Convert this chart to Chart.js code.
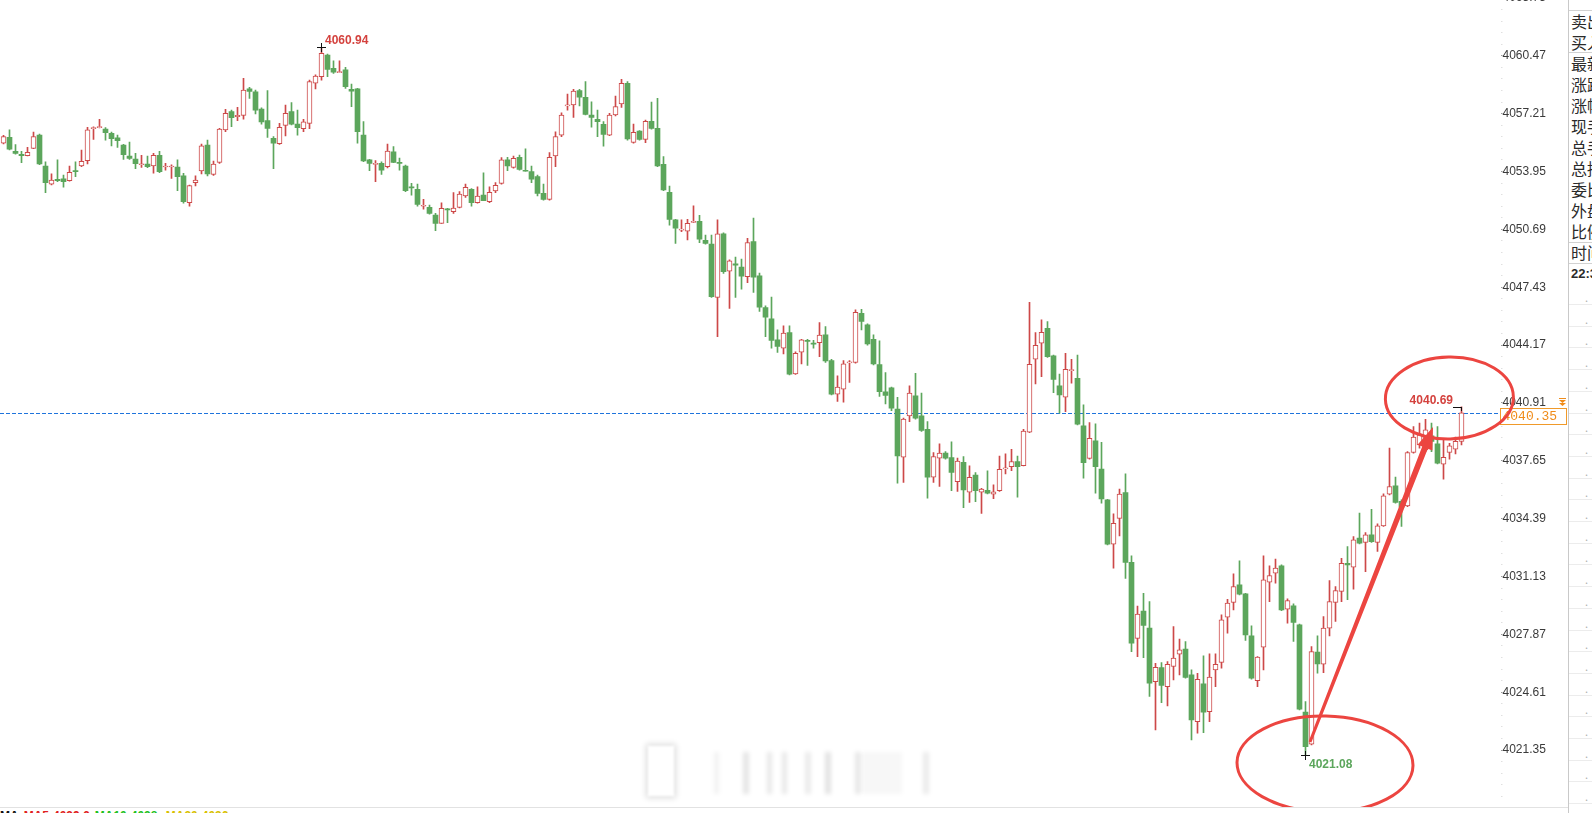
<!DOCTYPE html>
<html lang="zh-CN">
<head>
<meta charset="UTF-8">
<title>K线图</title>
<script src="https://cdn.jsdelivr.net/npm/chart.js"></script>
<style>
    body, html {
        margin: 0;
        height: 100%;
        overflow: hidden;
        background: #fff;
        font-family: Arial, "Liberation Sans", sans-serif;
    }
    #c {
        position: absolute;
        left: 0;
        top: 0;
    }
    #side {
        position: absolute;
        left: 1568px;
        top: 0;
        width: 40px;
        height: 813px;
        border-left: 1px solid #c9c9c9;
        font-family: "Noto Sans CJK SC", sans-serif;
        font-size: 16px;
        color: #2a2a2a;
    }
    #side .row {
        position: absolute;
        left: 2px;
        height: 20px;
        line-height: 20px;
        white-space: nowrap;
    }
    #side .ln {
        position: absolute;
        left: 0;
        width: 40px;
        height: 1px;
        background: #d2d2d2;
    }
    #side .ln.soft {
        background: #ececec;
    }
    #side .dot {
        position: absolute;
        left: 16px;
        font-size: 11px;
        color: #b0b0b0;
        line-height: 10px;
    }
    #bottomLine {
        position: absolute;
        left: 0;
        top: 807px;
        width: 1568px;
        height: 1px;
        background: #e2e2e2;
    }
    #maText {
        position: absolute;
        left: 0;
        top: 809px;
        font: bold 12px Arial, sans-serif;
        white-space: nowrap;
    }
    #maText span { margin-right: 5px; }
    .smear {
        position: absolute;
        filter: blur(2px);
    }
</style>
</head>
<body>

<canvas id="c" width="1568" height="808"></canvas>

<!-- blurred smear near the bottom of the screenshot -->
<div class="smear" style="left:648px;top:746px;width:26px;height:50px;background:#fff;box-shadow:0 0 6px 2px rgba(0,0,0,0.14);filter:blur(1px)"></div>
<div class="smear" style="left:714px;top:752px;width:5px;height:42px;background:rgba(0,0,0,0.05)"></div>
<div class="smear" style="left:743px;top:752px;width:6px;height:42px;background:rgba(0,0,0,0.10)"></div>
<div class="smear" style="left:767px;top:752px;width:5px;height:42px;background:rgba(0,0,0,0.09)"></div>
<div class="smear" style="left:782px;top:752px;width:5px;height:42px;background:rgba(0,0,0,0.09)"></div>
<div class="smear" style="left:805px;top:752px;width:6px;height:42px;background:rgba(0,0,0,0.08)"></div>
<div class="smear" style="left:825px;top:752px;width:6px;height:42px;background:rgba(0,0,0,0.11)"></div>
<div class="smear" style="left:855px;top:752px;width:6px;height:42px;background:rgba(0,0,0,0.09)"></div>
<div class="smear" style="left:862px;top:752px;width:40px;height:42px;background:rgba(0,0,0,0.03)"></div>
<div class="smear" style="left:923px;top:752px;width:6px;height:42px;background:rgba(0,0,0,0.08)"></div>

<div id="bottomLine"></div>
<div id="maText"><span style="color:#111">MA</span><span style="color:#e02020">MA5:4039.6</span><span style="color:#20c020">MA10:4038.</span><span style="color:#d8c000">MA20:4036.</span></div>

<div id="side"></div>

<script>
// ---- data (one candle per bar, left to right) ----
const candleOpen = [
    4055.54, 4055.87, 4055.08, 4054.92, 4054.84, 4055.25, 4056.00, 4054.26, 4053.24, 4053.51,
    4053.53, 4053.43, 4053.98, 4054.26, 4054.56, 4056.36, 4056.42, 4056.34, 4056.10, 4055.84,
    4055.44, 4054.82, 4054.65, 4054.33, 4054.37, 4054.26, 4054.86, 4054.20, 4054.20, 4054.20,
    4053.70, 4052.19, 4053.32, 4053.98, 4055.44, 4053.79, 4054.46, 4056.29, 4057.32, 4057.04,
    4057.11, 4058.61, 4058.43, 4057.47, 4056.81, 4055.82, 4055.52, 4056.55, 4057.32, 4056.62,
    4056.36, 4056.66, 4058.92, 4059.29, 4060.51, 4059.76, 4059.52, 4059.67, 4058.58, 4058.60,
    4056.00, 4054.60, 4054.35, 4054.41, 4054.22, 4055.05, 4054.45, 4054.26, 4053.09, 4052.94,
    4051.99, 4051.93, 4051.50, 4051.03, 4051.84, 4051.69, 4051.93, 4052.57, 4052.94, 4052.19,
    4052.62, 4052.25, 4052.85, 4053.28, 4054.60, 4054.18, 4054.75, 4054.00, 4053.94, 4053.66,
    4052.72, 4052.38, 4054.82, 4056.00, 4057.64, 4057.70, 4058.50, 4058.13, 4057.13, 4056.89,
    4056.61, 4056.00, 4057.13, 4057.75, 4058.91, 4055.59, 4056.23, 4055.76, 4056.77, 4056.38,
    4054.35, 4052.77, 4051.22, 4050.65, 4050.58, 4051.08, 4051.14, 4050.07, 4049.86, 4046.86,
    4050.43, 4048.33, 4048.74, 4048.56, 4048.03, 4050.00, 4048.07, 4046.28, 4045.65, 4044.46,
    4043.99, 4044.88, 4042.55, 4043.77, 4044.43, 4044.28, 4044.31, 4044.74, 4043.30, 4041.40,
    4041.68, 4043.17, 4043.19, 4045.96, 4045.31, 4044.50, 4043.07, 4041.53, 4041.76, 4040.56,
    4037.85, 4040.18, 4041.31, 4040.18, 4039.43, 4036.73, 4037.80, 4038.08, 4037.83, 4036.48,
    4037.57, 4035.88, 4036.85, 4035.88, 4035.99, 4035.77, 4035.97, 4037.19, 4037.32, 4037.61,
    4037.38, 4039.26, 4043.37, 4044.27, 4045.12, 4043.56, 4041.87, 4041.23, 4042.73, 4042.30,
    4039.62, 4037.79, 4038.77, 4037.19, 4035.45, 4032.95, 4034.41, 4035.86, 4031.93, 4027.65,
    4029.19, 4028.22, 4025.21, 4026.00, 4024.93, 4026.06, 4026.75, 4027.05, 4025.59, 4022.96,
    4025.08, 4023.52, 4025.87, 4026.29, 4028.84, 4029.67, 4030.66, 4030.15, 4027.79, 4025.27,
    4027.15, 4030.81, 4031.32, 4031.73, 4029.29, 4029.48, 4028.41, 4023.49, 4021.68, 4026.87,
    4026.19, 4028.22, 4029.67, 4030.29, 4031.88, 4031.66, 4033.29, 4033.05, 4033.48, 4033.05,
    4033.98, 4035.77, 4036.24, 4035.36, 4035.11, 4038.12, 4038.55, 4038.27, 4039.05, 4038.60,
    4037.46, 4038.12, 4038.30, 4038.74
];
const candleHigh = [
    4055.99, 4056.29, 4055.46, 4055.08, 4055.31, 4056.17, 4056.06, 4054.50, 4053.81, 4054.60,
    4053.75, 4054.26, 4054.50, 4055.16, 4056.44, 4056.47, 4056.89, 4056.42, 4056.17, 4056.00,
    4055.48, 4055.61, 4054.97, 4054.86, 4054.82, 4054.97, 4055.08, 4054.41, 4054.33, 4054.60,
    4053.85, 4053.19, 4053.71, 4055.50, 4055.72, 4054.54, 4056.38, 4057.45, 4057.41, 4057.56,
    4059.20, 4058.69, 4058.54, 4057.53, 4058.50, 4055.91, 4056.66, 4057.69, 4057.83, 4057.41,
    4056.89, 4059.10, 4059.39, 4060.94, 4060.57, 4060.19, 4060.19, 4059.82, 4058.88, 4058.63,
    4056.76, 4054.63, 4054.56, 4054.50, 4055.50, 4055.35, 4054.71, 4054.31, 4053.28, 4053.24,
    4052.38, 4052.06, 4051.59, 4052.19, 4051.87, 4052.76, 4052.81, 4053.24, 4052.98, 4053.09,
    4053.88, 4053.09, 4053.32, 4054.73, 4054.75, 4054.82, 4054.88, 4055.23, 4054.26, 4053.75,
    4053.24, 4055.01, 4056.19, 4057.26, 4058.31, 4058.58, 4058.58, 4059.01, 4057.88, 4057.41,
    4056.76, 4057.23, 4058.20, 4059.14, 4059.01, 4056.62, 4056.25, 4056.85, 4057.86, 4058.07,
    4054.79, 4053.13, 4051.25, 4051.22, 4051.25, 4052.02, 4051.48, 4050.37, 4050.37, 4051.22,
    4050.50, 4048.97, 4049.12, 4049.01, 4050.19, 4051.32, 4048.22, 4046.38, 4046.87, 4045.03,
    4045.25, 4045.25, 4043.79, 4044.50, 4044.50, 4044.43, 4045.44, 4045.21, 4043.37, 4042.43,
    4043.30, 4043.30, 4046.15, 4046.19, 4045.36, 4044.74, 4044.41, 4042.62, 4041.80, 4041.23,
    4040.05, 4041.87, 4042.58, 4041.46, 4039.86, 4038.12, 4038.60, 4038.17, 4038.72, 4037.80,
    4037.89, 4037.36, 4036.99, 4036.10, 4037.08, 4036.29, 4037.92, 4038.04, 4038.30, 4037.92,
    4039.43, 4046.58, 4044.87, 4045.59, 4045.49, 4043.61, 4042.53, 4043.71, 4043.37, 4043.61,
    4040.80, 4039.80, 4039.73, 4038.69, 4035.48, 4034.66, 4036.05, 4036.91, 4032.29, 4029.47,
    4030.19, 4029.72, 4026.24, 4026.28, 4026.34, 4028.31, 4027.60, 4027.46, 4025.87, 4025.68,
    4026.66, 4026.77, 4026.77, 4028.97, 4029.85, 4031.28, 4032.01, 4030.19, 4028.35, 4026.62,
    4032.29, 4031.73, 4032.11, 4031.79, 4029.87, 4029.59, 4028.45, 4024.09, 4027.19, 4027.79,
    4028.88, 4030.90, 4030.57, 4032.16, 4032.82, 4033.38, 4034.70, 4033.61, 4034.92, 4034.10,
    4035.79, 4038.36, 4036.73, 4035.45, 4038.17, 4039.58, 4039.77, 4039.99, 4039.77, 4039.58,
    4038.87, 4038.64, 4038.98, 4040.69
];
const candleLow = [
    4055.50, 4055.16, 4054.93, 4054.45, 4054.82, 4055.24, 4054.33, 4052.76, 4053.19, 4053.38,
    4053.06, 4053.41, 4053.66, 4054.22, 4054.37, 4055.76, 4056.40, 4055.72, 4055.39, 4055.31,
    4054.63, 4054.63, 4054.11, 4054.18, 4054.16, 4053.85, 4053.88, 4054.03, 4053.56, 4052.87,
    4052.16, 4052.00, 4053.13, 4053.81, 4053.70, 4053.73, 4054.41, 4056.19, 4056.47, 4056.81,
    4056.89, 4058.07, 4057.19, 4056.62, 4055.87, 4054.11, 4055.48, 4055.95, 4056.57, 4055.99,
    4056.19, 4056.36, 4058.60, 4059.10, 4059.29, 4059.48, 4059.52, 4058.63, 4057.60, 4055.54,
    4054.50, 4053.99, 4053.38, 4053.79, 4054.15, 4054.45, 4054.03, 4052.81, 4052.61, 4052.00,
    4051.82, 4051.55, 4050.62, 4051.03, 4051.07, 4051.59, 4051.89, 4052.49, 4052.00, 4052.16,
    4052.30, 4052.19, 4052.76, 4053.24, 4053.99, 4054.13, 4054.03, 4053.96, 4053.32, 4052.57,
    4052.34, 4052.34, 4054.22, 4055.91, 4057.41, 4057.00, 4057.64, 4057.13, 4056.44, 4055.91,
    4055.38, 4055.97, 4057.08, 4057.56, 4055.72, 4055.54, 4055.72, 4055.57, 4056.34, 4054.22,
    4052.87, 4050.93, 4049.90, 4050.56, 4050.09, 4051.07, 4049.94, 4049.86, 4046.86, 4044.64,
    4048.21, 4046.23, 4046.85, 4047.32, 4047.69, 4047.13, 4046.06, 4044.65, 4043.99, 4043.75,
    4043.67, 4042.49, 4042.51, 4043.11, 4043.02, 4043.99, 4043.52, 4043.19, 4041.36, 4040.99,
    4040.95, 4042.06, 4043.15, 4045.03, 4044.16, 4043.05, 4041.27, 4040.86, 4040.48, 4036.39,
    4036.43, 4039.86, 4040.00, 4039.30, 4035.54, 4036.43, 4036.20, 4037.74, 4035.97, 4035.92,
    4035.01, 4035.30, 4035.35, 4034.69, 4035.78, 4035.52, 4035.92, 4036.91, 4037.10, 4035.60,
    4037.36, 4039.24, 4041.98, 4042.39, 4043.48, 4041.49, 4040.33, 4040.42, 4042.02, 4039.67,
    4036.67, 4037.74, 4035.82, 4035.26, 4032.91, 4031.60, 4033.42, 4031.03, 4026.90, 4026.62,
    4026.56, 4024.37, 4022.49, 4024.03, 4023.84, 4025.31, 4025.59, 4025.40, 4021.92, 4022.30,
    4022.34, 4022.96, 4024.93, 4025.97, 4027.94, 4029.25, 4030.10, 4027.53, 4025.35, 4024.93,
    4025.87, 4029.72, 4030.76, 4029.21, 4028.50, 4027.47, 4023.62, 4021.08, 4021.65, 4025.68,
    4025.72, 4027.79, 4028.60, 4029.72, 4029.82, 4030.42, 4032.97, 4031.41, 4033.05, 4032.54,
    4033.95, 4035.73, 4035.26, 4033.95, 4035.07, 4038.08, 4038.36, 4038.17, 4038.17, 4037.48,
    4036.61, 4037.74, 4038.04, 4038.55
];
const candleClose = [
    4055.91, 4055.20, 4054.97, 4054.84, 4055.03, 4055.91, 4054.37, 4053.32, 4053.47, 4053.43,
    4053.38, 4053.90, 4053.94, 4054.52, 4056.29, 4056.40, 4056.45, 4056.14, 4055.80, 4055.69,
    4054.90, 4054.69, 4054.39, 4054.37, 4054.22, 4054.86, 4053.94, 4054.26, 4054.26, 4053.66,
    4052.25, 4053.15, 4053.47, 4055.39, 4053.81, 4054.37, 4056.34, 4057.23, 4056.98, 4057.11,
    4058.54, 4058.46, 4057.41, 4056.74, 4056.38, 4055.54, 4056.44, 4057.23, 4056.62, 4056.42,
    4056.74, 4059.01, 4059.33, 4060.61, 4059.70, 4059.55, 4059.57, 4058.73, 4058.48, 4056.19,
    4054.54, 4054.41, 4054.41, 4054.03, 4055.10, 4054.46, 4054.41, 4052.87, 4053.02, 4052.10,
    4052.02, 4051.59, 4051.03, 4051.87, 4051.78, 4051.89, 4052.68, 4053.06, 4052.19, 4052.57,
    4052.30, 4052.78, 4053.17, 4054.60, 4054.26, 4054.69, 4054.07, 4053.96, 4053.51, 4052.72,
    4052.38, 4054.75, 4055.91, 4057.13, 4057.70, 4058.48, 4058.13, 4057.17, 4057.00, 4056.76,
    4056.04, 4057.13, 4057.60, 4058.91, 4055.78, 4056.16, 4055.76, 4056.77, 4056.38, 4054.26,
    4052.91, 4051.25, 4050.75, 4050.69, 4051.03, 4051.12, 4050.13, 4049.90, 4046.90, 4050.43,
    4048.31, 4048.91, 4048.67, 4048.05, 4049.95, 4047.99, 4046.30, 4045.74, 4044.43, 4044.09,
    4044.84, 4042.53, 4043.71, 4044.46, 4044.37, 4044.22, 4044.73, 4043.28, 4041.40, 4041.80,
    4043.11, 4043.22, 4046.02, 4045.50, 4044.24, 4043.11, 4041.55, 4041.33, 4040.61, 4037.93,
    4040.00, 4041.46, 4040.05, 4039.36, 4036.73, 4037.89, 4038.08, 4037.80, 4036.99, 4037.63,
    4036.01, 4036.72, 4035.97, 4036.05, 4035.82, 4035.90, 4037.17, 4037.25, 4037.61, 4037.32,
    4039.33, 4043.09, 4044.16, 4044.89, 4043.52, 4042.24, 4041.36, 4042.81, 4042.77, 4039.71,
    4037.55, 4038.92, 4037.32, 4035.50, 4032.95, 4034.13, 4035.77, 4031.92, 4027.37, 4029.02,
    4028.37, 4025.12, 4026.02, 4024.99, 4026.19, 4026.53, 4027.00, 4025.44, 4023.05, 4025.34,
    4023.49, 4025.46, 4026.19, 4028.69, 4029.63, 4030.57, 4030.14, 4027.84, 4025.40, 4026.59,
    4030.94, 4031.19, 4031.60, 4029.25, 4029.78, 4028.54, 4023.66, 4021.55, 4026.90, 4026.21,
    4028.22, 4029.72, 4030.34, 4031.88, 4031.79, 4033.20, 4033.01, 4033.48, 4033.10, 4033.98,
    4035.68, 4036.20, 4035.30, 4035.04, 4038.12, 4038.98, 4039.11, 4039.39, 4038.74, 4037.52,
    4037.85, 4038.49, 4038.74, 4040.35
];

const yTickLabels = [4021.35, 4024.61, 4027.87, 4031.13, 4034.39, 4037.65, 4040.91,
                     4044.17, 4047.43, 4050.69, 4053.95, 4057.21, 4060.47, 4063.73];
const lastPrice = 4040.35;
const markHigh = { idx: 53, value: 4060.94 };
const markLow = { idx: 217, value: 4021.08 };
const markLast = { idx: 243, value: 4040.69 };
const yMin = 4018.09, yMax = 4063.61;
const slotCount = 250;   // candle slots across the plot, the last few are empty

const panelRows = ['卖出', '买入', '最新', '涨跌', '涨幅', '现手', '总手', '总持', '委比', '外盘', '比例', '时间'];

const RED = '#cd4848';
const GREEN = '#5ca65c';

// ---- right side quote panel (cut off by the window) ----
(function buildSide() {
    const side = document.getElementById('side');
    let html = '<div class="row" style="top:-12px;font:bold 13px Arial">11:</div>';
    html += '<div class="ln" style="top:10px"></div>';
    panelRows.forEach(function (t, i) {
        html += '<div class="row" style="top:' + (11 + 21 * i) + 'px">' + t + '</div>';
    });
    html += '<div class="ln" style="top:52px"></div>';
    html += '<div class="ln" style="top:242px"></div>';
    html += '<div class="ln" style="top:263px"></div>';
    html += '<div class="row" style="top:266px;font:bold 13px Arial">22:3</div>';
    for (let j = 0; j < 24; j++) {
        const y = 292 + j * 21.7;
        html += '<div class="dot" style="top:' + y.toFixed(1) + 'px">.</div>';
        html += '<div class="ln soft" style="top:' + (y + 12).toFixed(1) + 'px"></div>';
    }
    side.innerHTML = html;
})();

// ---- y axis ticks: labelled ones plus faint minor ones ----
function buildTicks() {
    const step = yTickLabels[1] - yTickLabels[0];
    const out = [];
    for (let j = -15; j <= 80; j++) {
        const v = yTickLabels[0] + j * step / 5;
        if (v < yMin || v > yMax) continue;
        out.push({ value: v, major: j % 5 === 0 });
    }
    return out;
}

const slotLabels = Array.from({ length: slotCount }, (_, i) => String(i));
const isUp = i => candleClose[i] >= candleOpen[i];
const bodies = candleOpen.map((o, i) => [o, candleClose[i]]);
const wicks = candleOpen.map((o, i) => [candleLow[i], candleHigh[i]]);

function plus(ctx, x, y, s) {
    ctx.beginPath();
    ctx.moveTo(x - s, y + 0.5); ctx.lineTo(x + s + 1, y + 0.5);
    ctx.moveTo(x + 0.5, y - s); ctx.lineTo(x + 0.5, y + s + 1);
    ctx.stroke();
}

const overlay = {
    id: 'overlay',
    beforeDatasetsDraw(chart) {
        const { ctx, chartArea: a, scales: { y } } = chart;
        const py = Math.round(y.getPixelForValue(lastPrice)) + 0.5;
        ctx.save();
        ctx.strokeStyle = '#1f74dc';
        ctx.lineWidth = 1;
        ctx.setLineDash([4, 2]);
        ctx.beginPath();
        ctx.moveTo(0, py);
        ctx.lineTo(a.right, py);
        ctx.stroke();
        ctx.restore();
    },
    afterDraw(chart) {
        const { ctx, chartArea: a, scales: { x, y } } = chart;
        ctx.save();

        // tick label above the top edge, only its lower part shows
        ctx.fillStyle = '#3a3a3a';
        ctx.font = '12px Arial';
        ctx.textAlign = 'left';
        ctx.textBaseline = 'middle';
        yTickLabels.filter(v => v > yMax).forEach(v => {
            ctx.fillText(v.toFixed(2), a.right + 2, y.getPixelForValue(v));
        });

        // last price box on the axis
        const py = Math.round(y.getPixelForValue(lastPrice));
        ctx.fillStyle = '#fff';
        ctx.fillRect(a.right, py - 5, 68, 17);
        ctx.strokeStyle = '#f09a2a';
        ctx.lineWidth = 1;
        ctx.strokeRect(Math.floor(a.right) + 0.5, py - 4.5, 66, 16);
        ctx.fillStyle = '#f08c1a';
        ctx.font = '13px "Liberation Mono", monospace';
        ctx.textBaseline = 'middle';
        ctx.fillText(lastPrice.toFixed(2), a.right + 2, py + 4);
        // small double arrow mark above the box
        const ix = Math.round(a.right) + 58, iy = py - 15;
        ctx.fillRect(ix, iy, 7, 1);
        ctx.beginPath();
        ctx.moveTo(ix, iy + 2); ctx.lineTo(ix + 7, iy + 2); ctx.lineTo(ix + 3.5, iy + 5); ctx.closePath();
        ctx.moveTo(ix, iy + 5); ctx.lineTo(ix + 7, iy + 5); ctx.lineTo(ix + 3.5, iy + 8); ctx.closePath();
        ctx.fill();

        // high / low marks
        ctx.strokeStyle = '#111';
        ctx.lineWidth = 1;
        ctx.font = 'bold 12px Arial, sans-serif';
        ctx.textBaseline = 'alphabetic';

        let mx = Math.floor(x.getPixelForValue(markHigh.idx));
        let my = Math.round(y.getPixelForValue(markHigh.value));
        plus(ctx, mx, my, 4);
        ctx.fillStyle = '#d4423e';
        ctx.textAlign = 'left';
        ctx.fillText(markHigh.value.toFixed(2), mx + 4, my - 3);

        mx = Math.floor(x.getPixelForValue(markLow.idx));
        my = Math.round(y.getPixelForValue(markLow.value));
        plus(ctx, mx, my, 4);
        ctx.fillStyle = '#5ca65c';
        ctx.fillText(markLow.value.toFixed(2), mx + 4, my + 13);

        mx = Math.floor(x.getPixelForValue(markLast.idx));
        my = Math.round(y.getPixelForValue(markLast.value));
        ctx.beginPath();
        ctx.moveTo(mx - 8, my + 0.5); ctx.lineTo(mx + 1, my + 0.5);
        ctx.moveTo(mx + 0.5, my); ctx.lineTo(mx + 0.5, my + 4);
        ctx.stroke();
        ctx.fillStyle = '#d4423e';
        ctx.textAlign = 'right';
        ctx.fillText(markLast.value.toFixed(2), mx - 8, my - 3);

        // hand drawn red annotations
        ctx.strokeStyle = '#ec4540';
        ctx.fillStyle = '#ec4540';
        ctx.lineWidth = 3;
        ctx.beginPath();
        ctx.ellipse(x.getPixelForValue(240.98), y.getPixelForValue(4041.19), 64, 41, -0.02, 0, Math.PI * 2);
        ctx.stroke();
        ctx.beginPath();
        ctx.ellipse(x.getPixelForValue(220.25), y.getPixelForValue(4020.57), 88, 48, 0.02, 0, Math.PI * 2);
        ctx.stroke();

        const tx = x.getPixelForValue(217.75), ty = y.getPixelForValue(4021.81);
        const hx = x.getPixelForValue(238.25), hy = y.getPixelForValue(4039.55);
        const ang = Math.atan2(hy - ty, hx - tx);
        const headLen = 22, headW = 8;
        const nx = -Math.sin(ang), ny = Math.cos(ang);
        const bx = hx - Math.cos(ang) * headLen, by = hy - Math.sin(ang) * headLen;
        ctx.beginPath();
        ctx.moveTo(tx + nx * 1.5, ty + ny * 1.5);
        ctx.lineTo(bx + nx * 3, by + ny * 3);
        ctx.lineTo(bx + nx * headW, by + ny * headW);
        ctx.lineTo(hx, hy);
        ctx.lineTo(bx - nx * headW, by - ny * headW);
        ctx.lineTo(bx - nx * 3, by - ny * 3);
        ctx.lineTo(tx - nx * 1.5, ty - ny * 1.5);
        ctx.closePath();
        ctx.fill();

        ctx.restore();
    }
};

new Chart(document.getElementById('c'), {
    type: 'bar',
    data: {
        labels: slotLabels,
        datasets: [
            {
                label: 'body',
                data: bodies,
                grouped: false,
                barThickness: 5,
                minBarLength: 1,
                borderSkipped: false,
                backgroundColor: c => isUp(c.dataIndex) ? '#ffffff' : GREEN,
                borderColor: c => isUp(c.dataIndex) ? RED : GREEN,
                borderWidth: c => isUp(c.dataIndex) ? 1 : 0
            },
            {
                label: 'wick',
                data: wicks,
                grouped: false,
                barThickness: 1,
                minBarLength: 1,
                borderWidth: 0,
                backgroundColor: c => isUp(c.dataIndex) ? RED : GREEN
            }
        ]
    },
    options: {
        responsive: false,
        animation: false,
        devicePixelRatio: 1,
        layout: { padding: { left: 0.5, right: 0, top: 0, bottom: 0 } },
        plugins: {
            legend: { display: false },
            tooltip: { enabled: false }
        },
        scales: {
            x: {
                type: 'category',
                display: false,
                offset: true
            },
            y: {
                position: 'right',
                min: yMin,
                max: yMax,
                afterBuildTicks: s => { s.ticks = buildTicks(); },
                afterFit: s => { s.width = 67.5; s.paddingTop = 0; s.paddingBottom = 0; },
                border: { display: false },
                grid: {
                    drawOnChartArea: false,
                    drawTicks: true,
                    tickLength: 2,
                    color: c => (c.tick && c.tick.major) ? '#9a9a9a' : '#e0e0e0'
                },
                ticks: {
                    autoSkip: false,
                    padding: 0,
                    color: '#3a3a3a',
                    font: { family: 'Arial', size: 12 },
                    callback: (v, i, t) => t[i].major ? v.toFixed(2) : ''
                }
            }
        }
    },
    plugins: [overlay]
});
</script>
</body>
</html>
